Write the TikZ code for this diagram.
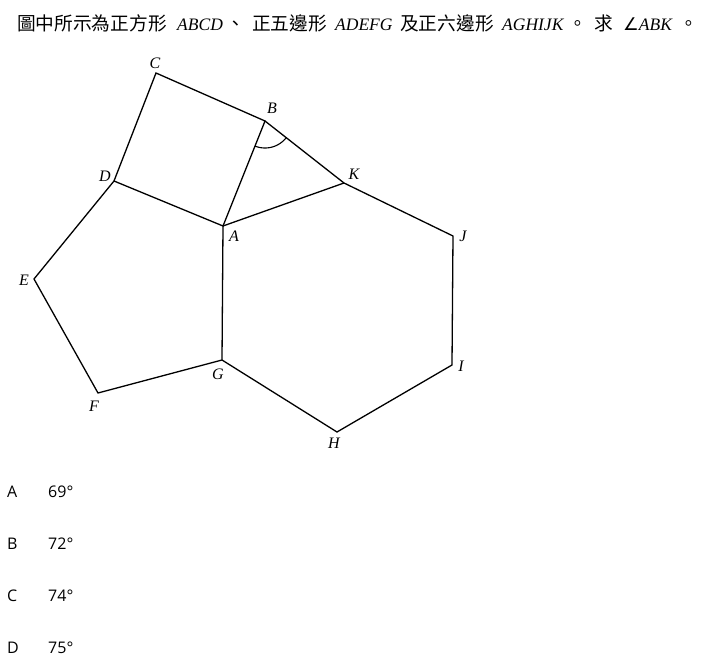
\documentclass[tikz,border=0pt]{standalone}
\usepackage{fontspec}
\setmainfont{Liberation Serif}
\newfontfamily\cjkfont{Noto Sans CJK TC}
\newfontfamily\symfont{DejaVu Sans}
\newfontfamily\optfont{Open Sans}
\begin{document}
\begin{tikzpicture}[x=1pt,y=-1pt,
  edge/.style={line width=1.3pt,line join=miter},
  vlabel/.style={font=\fontsize{16}{16}\selectfont\itshape,inner sep=0pt},
  cj/.style={font=\cjkfont\fontsize{18.7}{19}\selectfont,inner sep=0pt,anchor=base west},
  lt/.style={font=\fontsize{17.5}{18}\selectfont\itshape,inner sep=0pt,anchor=base west},
  opt/.style={font=\optfont\fontsize{16}{16}\selectfont,inner sep=0pt,anchor=west}]
\useasboundingbox (0,0) rectangle (718,666);
\fill[white] (0,0) rectangle (718,666);
% title
\node[cj] (t1) at (17,31) {圖中所示為正方形};
\node[lt] (t2) at (177,31) {ABCD};
\node[cj] (t3) at (226,31) {、};
\node[cj] (t4) at (252,31) {正五邊形};
\node[lt] (t5) at (335,31) {ADEFG};
\node[cj] (t6) at (400,31) {及正六邊形};
\node[lt] (t7) at (502,31) {AGHIJK};
\node[cj] (t8) at (568,31) {。};
\node[cj] (t9) at (594,31) {求};
\node[lt] (t10) at (623,31) {{\symfont\upshape ∠}ABK};
\node[cj] (t12) at (679,31) {。};
% vertices
\coordinate (A) at (223,226);
\coordinate (B) at (265,121);
\coordinate (C) at (156,73);
\coordinate (D) at (114,181);
\coordinate (E) at (34,279);
\coordinate (F) at (98,393);
\coordinate (G) at (222,360);
\coordinate (H) at (337,432);
\coordinate (I) at (452,365);
\coordinate (J) at (453,236);
\coordinate (K) at (344,183);
% shapes
\draw[edge] (A) -- (B) -- (C) -- (D) -- cycle;
\draw[edge] (D) -- (E) -- (F) -- (G) -- (A);
\draw[edge] (G) -- (H) -- (I) -- (J) -- (K) -- (A);
\draw[edge] (B) -- (K);
% angle arc
\draw[line width=1.1pt] plot[domain=248.2:321.9, samples=30, smooth] ({265+27*cos(\x)}, {121-27*sin(\x)});
% labels
\node[vlabel] (lC) at (155,63) {C};
\node[vlabel] (lB) at (272,108) {B};
\node[vlabel] (lD) at (105,176) {D};
\node[vlabel] (lK) at (354,174) {K};
\node[vlabel] (lA) at (234,236) {A};
\node[vlabel] (lJ) at (463,236) {J};
\node[vlabel] (lE) at (24,280) {E};
\node[vlabel] (lI) at (461,366) {I};
\node[vlabel] (lG) at (218,374) {G};
\node[vlabel] (lF) at (94,406) {F};
\node[vlabel] (lH) at (334,443) {H};
% options
\node[opt] (oA) at (7,492) {A};
\node[opt] (vA) at (48,492) {69°};
\node[opt] (oB) at (7,544) {B};
\node[opt] (vB) at (48,544) {72°};
\node[opt] (oC) at (7,596) {C};
\node[opt] (vC) at (48,596) {74°};
\node[opt] (oD) at (7,648) {D};
\node[opt] (vD) at (48,648) {75°};
\end{tikzpicture}
\end{document}
